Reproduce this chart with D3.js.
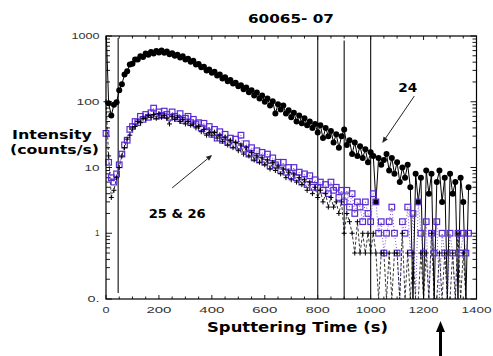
<!DOCTYPE html>
<html><head><meta charset="utf-8">
<script src="https://cdn.jsdelivr.net/npm/d3@7"></script>
<style>body{margin:0;background:#fff;} svg{display:block;}</style>
</head><body><svg id="c" width="493" height="356"></svg>
<script>
// ---- data ----
const times = [0,10,20,30,40,50,60,70,80,90,100,110,120,130,140,150,160,170,180,190,
200,210,220,230,240,250,260,270,280,290,300,310,320,330,340,350,360,370,380,390,
400,410,420,430,440,450,460,470,480,490,500,510,520,530,540,550,560,570,580,590,
600,610,620,630,640,650,660,670,680,690,700,710,720,730,740,750,760,770,780,790,
800,810,820,830,840,850,860,870,880,890,900,910,920,930,940,950,960,970,980,990,
1000,1010,1020,1030,1040,1050,1060,1070,1080,1090,1100,1110,1120,1130,1140,1150,1160,1170,1180,1190,
1200,1210,1220,1230,1240,1250,1260,1270,1280,1290,1300,1310,1320,1330,1340,1350,1360,1370];

const s24 = [1500,95,62,90,98,150,185,260,290,370,
380,440,440,490,480,540,520,570,540,590,
560,600,555,580,530,545,500,520,470,490,
440,450,405,420,370,375,335,340,300,310,
275,285,250,260,225,235,205,215,190,195,
172,178,155,165,140,150,125,138,112,125,
100,112,88,102,66,92,76,88,66,74,
58,68,50,62,47,56,44,50,40,46,
34,44,28,40,30,36,24,32,20,30,
38,22,26,16,24,15,21,14,19,12,
17,15,3,14,11,13,16,9,14,8,
12,6,10,7,11,5,0,8,3,7,
0,9,4,8,0,6,9,3,7,0,
8,4,6,0,7,3,0,5];

const s25 = [100,15,3.5,4.5,7,10,15,20,27,31,
40,42,50,48,56,55,62,58,64,56,
66,58,62,56,46,60,54,58,50,54,
46,50,44,46,40,42,35,38,31,34,
31,34,28,31,25,29,22,26,20,24,
18,22,16,20,15,17,13,15,12,14,
11,13,9.5,12,9,10.5,8,9.5,7,8.5,
6.5,8,6,7,5.5,6.5,4.5,6,4,5,
3.5,4.5,3,4,2.5,3.5,2.5,3,2,3,
1,2,1.5,1,0.5,1.5,0.5,1,0.5,1,
0.5,1,0.5,0,0.5,0.5,0,0.5,0,0.5,
0.5,0,1,0,0.5,0,0.5,0,0,0.5,
0,0.5,0,1,0,0,0.5,0,0.5,0,
0,0.5,0,1,0,0.5,0,0];

const s26 = [33,12,7,6,8,11,16,22,26,38,
42,50,48,60,54,64,58,68,80,60,
70,62,72,64,58,70,60,56,66,52,
56,60,48,54,46,48,40,47,36,42,
32,38,28,35,26,32,24,28,22,27,
21,31,19,23,16,20,14,18,13,17,
12,16,10.5,14,11,12,9,12,8.5,10,
7.5,10,7,8.5,6,8,5.5,7.5,5,6.5,
5,6,4.5,5.5,4,6,4.5,5,3.5,4.5,
3,4.5,2.5,4,2,3,2.5,1.5,3,2,
1.5,4,3,1,1.5,0.5,1,1.5,2.5,1,
0.5,0,1.5,1,2.5,0.5,2,0,3,1,
0.5,1.5,0,1,0.5,1.5,0,1,0.5,0,
1,0.5,0,1,0.5,1,0.5,1];

const xTicks = [0,200,400,600,800,1000,1200,1400];
const xTickLabels = ["0","200","400","600","800","1000","1200","1400"];
const yTicks = [0.1,1,10,100,1000];
const yTickLabels = ["0.","1","10","100","1000"];
const refLines = [46,800,900,1000];
const title = "60065- 07";

// ---- layout ----
const svg = d3.select("#c");
const L=106, R=476.5, T=36, B=299;
const x = d3.scaleLinear().domain([0,1400]).range([L,R]);
const y = d3.scaleLog().domain([0.1,1000]).range([B,T]);
const yv = v => v > 0 ? y(v) : y(y.domain()[0]);
const PURPLE = "#5a2bd4";

svg.append("defs").append("clipPath").attr("id","clip")
  .append("rect").attr("x",L-6).attr("y",T).attr("width",R-L+12).attr("height",B-T);

function txt(s, px, py, size, opt={}) {
  const t = svg.append("text").text(s).attr("x",px).attr("y",py)
    .attr("font-size",size)
    .attr("font-family", opt.family || "Liberation Sans, Arial, sans-serif")
    .attr("font-weight", opt.weight || "normal")
    .attr("text-anchor", opt.anchor || "middle")
    .attr("fill", opt.fill || "#000");
  if (opt.len) t.attr("textLength",opt.len).attr("lengthAdjust","spacingAndGlyphs");
  return t;
}

// ticks
const gT = svg.append("g").attr("stroke","#000").attr("stroke-width",0.9);
y.ticks().forEach(v => {
  const major = Math.abs(Math.log10(v) - Math.round(Math.log10(v))) < 1e-9;
  const len = major ? 6 : 4;
  gT.append("line").attr("x1",L).attr("x2",L+len).attr("y1",y(v)).attr("y2",y(v));
  gT.append("line").attr("x1",R).attr("x2",R-len).attr("y1",y(v)).attr("y2",y(v));
});
x.ticks(28).forEach(v => {
  const major = v % 200 === 0;
  const len = major ? 4 : 2.5;
  gT.append("line").attr("x1",x(v)).attr("x2",x(v)).attr("y1",B).attr("y2",B-len);
  gT.append("line").attr("x1",x(v)).attr("x2",x(v)).attr("y1",T).attr("y2",T+len);
});

// reference vertical lines
const refTop = [38,36,40.5,36], refBot = [293,B,B,B];
refLines.forEach((t,i) => {
  svg.append("line").attr("x1",x(t)).attr("x2",x(t)).attr("y1",refTop[i]).attr("y2",refBot[i])
    .attr("stroke","#222").attr("stroke-width",1.2);
});

// data
const pts = (vals) => times.map((t,i) => ({t, v: vals[i]}));
const d24 = pts(s24), d25 = pts(s25), d26 = pts(s26);
const line = d3.line().x(d => x(d.t)).y(d => yv(d.v));
const plot = svg.append("g").attr("clip-path","url(#clip)");

plot.append("path").datum(d24).attr("d",line).attr("fill","none")
  .attr("stroke","#000").attr("stroke-width",1);
plot.append("path").datum(d26).attr("d",line).attr("fill","none")
  .attr("stroke",PURPLE).attr("stroke-width",0.8).attr("stroke-dasharray","1,2");
plot.append("path").datum(d25).attr("d",line).attr("fill","none")
  .attr("stroke","#000").attr("stroke-width",0.8).attr("stroke-dasharray","3,2");

const vis = d => d.v > 0;
plot.selectAll(".c24").data(d24.filter(vis)).join("circle")
  .attr("cx",d => x(d.t)).attr("cy",d => y(d.v)).attr("r",3).attr("fill","#000");
plot.selectAll(".s26").data(d26.filter(vis)).join("rect")
  .attr("x",d => x(d.t)-2.8).attr("y",d => y(d.v)-2.8).attr("width",5.6).attr("height",5.6)
  .attr("fill","none").attr("stroke",PURPLE).attr("stroke-width",1.2);
const plus = plot.append("g").attr("stroke","#000").attr("stroke-width",1);
d25.filter(vis).forEach(d => {
  const cx = x(d.t), cy = y(d.v);
  plus.append("line").attr("x1",cx-2.5).attr("x2",cx+2.5).attr("y1",cy).attr("y2",cy);
  plus.append("line").attr("x1",cx).attr("x2",cx).attr("y1",cy-2.5).attr("y2",cy+2.5);
});

// frame
svg.append("rect").attr("x",L).attr("y",T).attr("width",R-L).attr("height",B-T)
  .attr("fill","none").attr("stroke","#000").attr("stroke-width",1.2);

// tick labels
const yLen = [12,4.5,15,23,28];
yTicks.forEach((v,i) => txt(yTickLabels[i], 99.5, y(v)+3, 8.5, {anchor:"end", fill:"#333", len:yLen[i]}));
const xLen = [7,25,25,25,24,30,30,30];
xTicks.forEach((v,i) => txt(xTickLabels[i], x(v), 312.5, 9.3, {fill:"#333", len:xLen[i]}));

// titles
const BOLD = {family:"DejaVu Sans, sans-serif", weight:"bold"};
txt(title, 291, 23, 12.5, {...BOLD, len:86});
txt("Intensity", 52, 139, 12, {...BOLD, len:80});
txt("(counts/s)", 54.5, 153.5, 12, {...BOLD, len:89});
txt("Sputtering Time (s)", 297.5, 331.5, 14, {...BOLD, len:181});

// annotations (anchored in data units)
function arrow(x1,y1,x2,y2,w,head,hw,color) {
  const a = Math.atan2(y2-y1,x2-x1);
  const bx = x2 - head*Math.cos(a), by = y2 - head*Math.sin(a);
  svg.append("line").attr("x1",x1).attr("y1",y1).attr("x2",bx).attr("y2",by)
    .attr("stroke",color).attr("stroke-width",w);
  const px = -Math.sin(a)*hw, py = Math.cos(a)*hw;
  svg.append("polygon").attr("points",`${x2},${y2} ${bx+px},${by+py} ${bx-px},${by-py}`).attr("fill",color);
}
txt("24", x(1140), yv(165)+4.5, 12.5, {...BOLD, len:19});
arrow(x(1165), yv(122), x(1044), yv(23.6), 1, 6, 2.5, "#222");
txt("25 & 26", x(269), yv(2.0)+4.5, 12.5, {...BOLD, len:57});
arrow(x(250), yv(4.9), x(401), yv(15.5), 1, 6, 2.5, "#222");
arrow(x(1264), 358, x(1264), 321, 3, 11, 4.5, "#000");
</script></body></html>
